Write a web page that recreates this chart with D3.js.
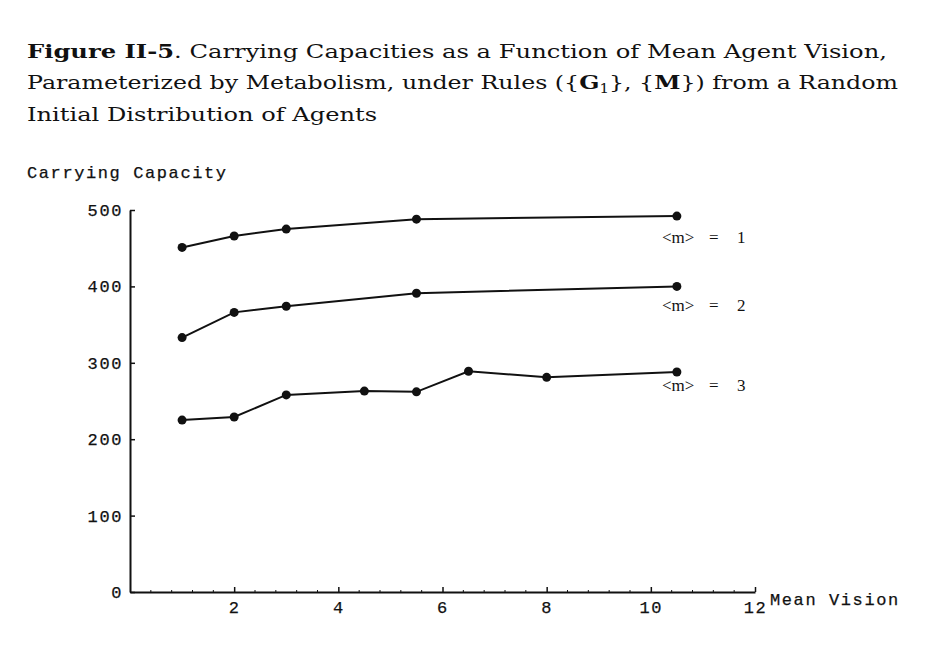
<!DOCTYPE html>
<html>
<head>
<meta charset="utf-8">
<script src="https://cdn.jsdelivr.net/npm/d3@7"></script>
<style>
  html, body { margin: 0; padding: 0; background: #fff; }
  svg { display: block; }
  .mono { font-family: "Liberation Mono", "DejaVu Sans Mono", monospace; font-size: 17px; letter-spacing: 1.6px; fill: #111; stroke: #111; stroke-width: 0.25px; }
  .title { font-family: "DejaVu Serif", "Liberation Serif", serif; font-size: 19px; fill: #111; }
  .lab { font-family: "Liberation Serif", "Times New Roman", serif; font-size: 17px; fill: #111; }
</style>
</head>
<body>
<svg id="chart" width="934" height="656"></svg>
<script>
// ---- data ----
const visionM1 = [1, 2, 3, 5.5, 10.5];
const capacityM1 = [451, 466, 475, 488, 492];
const visionM2 = [1, 2, 3, 5.5, 10.5];
const capacityM2 = [333, 366, 374, 391, 400];
const visionM3 = [1, 2, 3, 4.5, 5.5, 6.5, 8, 10.5];
const capacityM3 = [225, 229, 258, 263, 262, 289, 281, 288];
const metabolism = ["1", "2", "3"];
const xTicks = [2, 4, 6, 8, 10, 12];
const yTicks = [0, 100, 200, 300, 400, 500];
const yLabel = "Carrying Capacity";
const xLabel = "Mean Vision";
const titleLines = [
  [{t: "Figure II-5", b: true}, {t: ".  Carrying Capacities as a Function of Mean Agent Vision,"}],
  [{t: "Parameterized by Metabolism, under Rules ({"}, {t: "G", b: true}, {t: "1", sub: true}, {t: "}, {"}, {t: "M", b: true}, {t: "}) from a Random"}],
  [{t: "Initial Distribution of Agents"}]
];

// ---- layout ----
const svg = d3.select("#chart");
const x = d3.scaleLinear().domain([0, 12]).range([130, 755]);
const y = d3.scaleLinear().domain([0, 500]).range([592, 210]);

// title
const titleBase = [58, 89, 121];
const titleRight = [887, 898, 377];
titleLines.forEach((segs, i) => {
  const t = svg.append("text").attr("class", "title")
    .attr("x", 27).attr("y", titleBase[i]);
  segs.forEach((s, j) => {
    const ts = t.append("tspan").text(s.t);
    if (s.b) ts.attr("font-weight", "bold");
    if (s.sub) ts.attr("font-size", "12px").attr("dy", 4);
    if (j > 0 && segs[j - 1].sub) ts.attr("dy", -4);
  });
  t.attr("textLength", titleRight[i] - 27).attr("lengthAdjust", "spacingAndGlyphs");
});

// axis labels
svg.append("text").attr("class", "mono").attr("x", 27).attr("y", 178).text(yLabel);
svg.append("text").attr("class", "mono").attr("x", 770).attr("y", 605).text(xLabel);

// y axis
const yAxis = d3.axisLeft(y).tickValues(yTicks).tickSizeInner(-5).tickSizeOuter(0).tickPadding(7).tickFormat(d3.format("d"));
const gy = svg.append("g").attr("transform", `translate(${x(0)},0)`).call(yAxis);
gy.select(".domain").attr("stroke", "#111").attr("stroke-width", 2);
gy.selectAll(".tick line").attr("stroke", "#111").attr("stroke-width", 1.5);
gy.selectAll(".tick text").attr("class", "mono").attr("font-family", null).attr("font-size", null);

// x axis
const xAxis = d3.axisBottom(x).tickValues(xTicks).tickSizeInner(-5).tickSizeOuter(0).tickPadding(9).tickFormat(d3.format("d"));
const gx = svg.append("g").attr("transform", `translate(0,${y(0)})`).call(xAxis);
gx.select(".domain").attr("stroke", "#111").attr("stroke-width", 2);
gx.selectAll(".tick line").attr("stroke", "#111").attr("stroke-width", 1.5);
gx.selectAll(".tick text").attr("class", "mono").attr("font-family", null).attr("font-size", null);

// x minor ticks
const xMinor = d3.range(0.4, 12, 0.4).filter(v => Math.abs(v / 2 - Math.round(v / 2)) > 0.01);
svg.append("g").selectAll("line").data(xMinor).join("line")
  .attr("x1", d => x(d)).attr("x2", d => x(d))
  .attr("y1", y(0)).attr("y2", y(0) - 2)
  .attr("stroke", "#111").attr("stroke-width", 1);

// series
const series = [
  {xs: visionM1, ys: capacityM1, m: metabolism[0], off: 27},
  {xs: visionM2, ys: capacityM2, m: metabolism[1], off: 25},
  {xs: visionM3, ys: capacityM3, m: metabolism[2], off: 19}
];
const line = d3.line().x(d => x(d[0])).y(d => y(d[1]));
series.forEach(s => {
  const pts = s.xs.map((v, i) => [v, s.ys[i]]);
  svg.append("path").datum(pts).attr("d", line)
    .attr("fill", "none").attr("stroke", "#111").attr("stroke-width", 2);
  svg.append("g").selectAll("circle").data(pts).join("circle")
    .attr("cx", d => x(d[0])).attr("cy", d => y(d[1])).attr("r", 4.5).attr("fill", "#111");
  const last = pts[pts.length - 1];
  const ly = y(last[1]) + s.off;
  const t = svg.append("text").attr("class", "lab").attr("y", ly);
  t.append("tspan").attr("x", 662).text("<m>");
  t.append("tspan").attr("x", 709).text("=");
  t.append("tspan").attr("x", 737).text(s.m);
});
</script>
</body>
</html>
